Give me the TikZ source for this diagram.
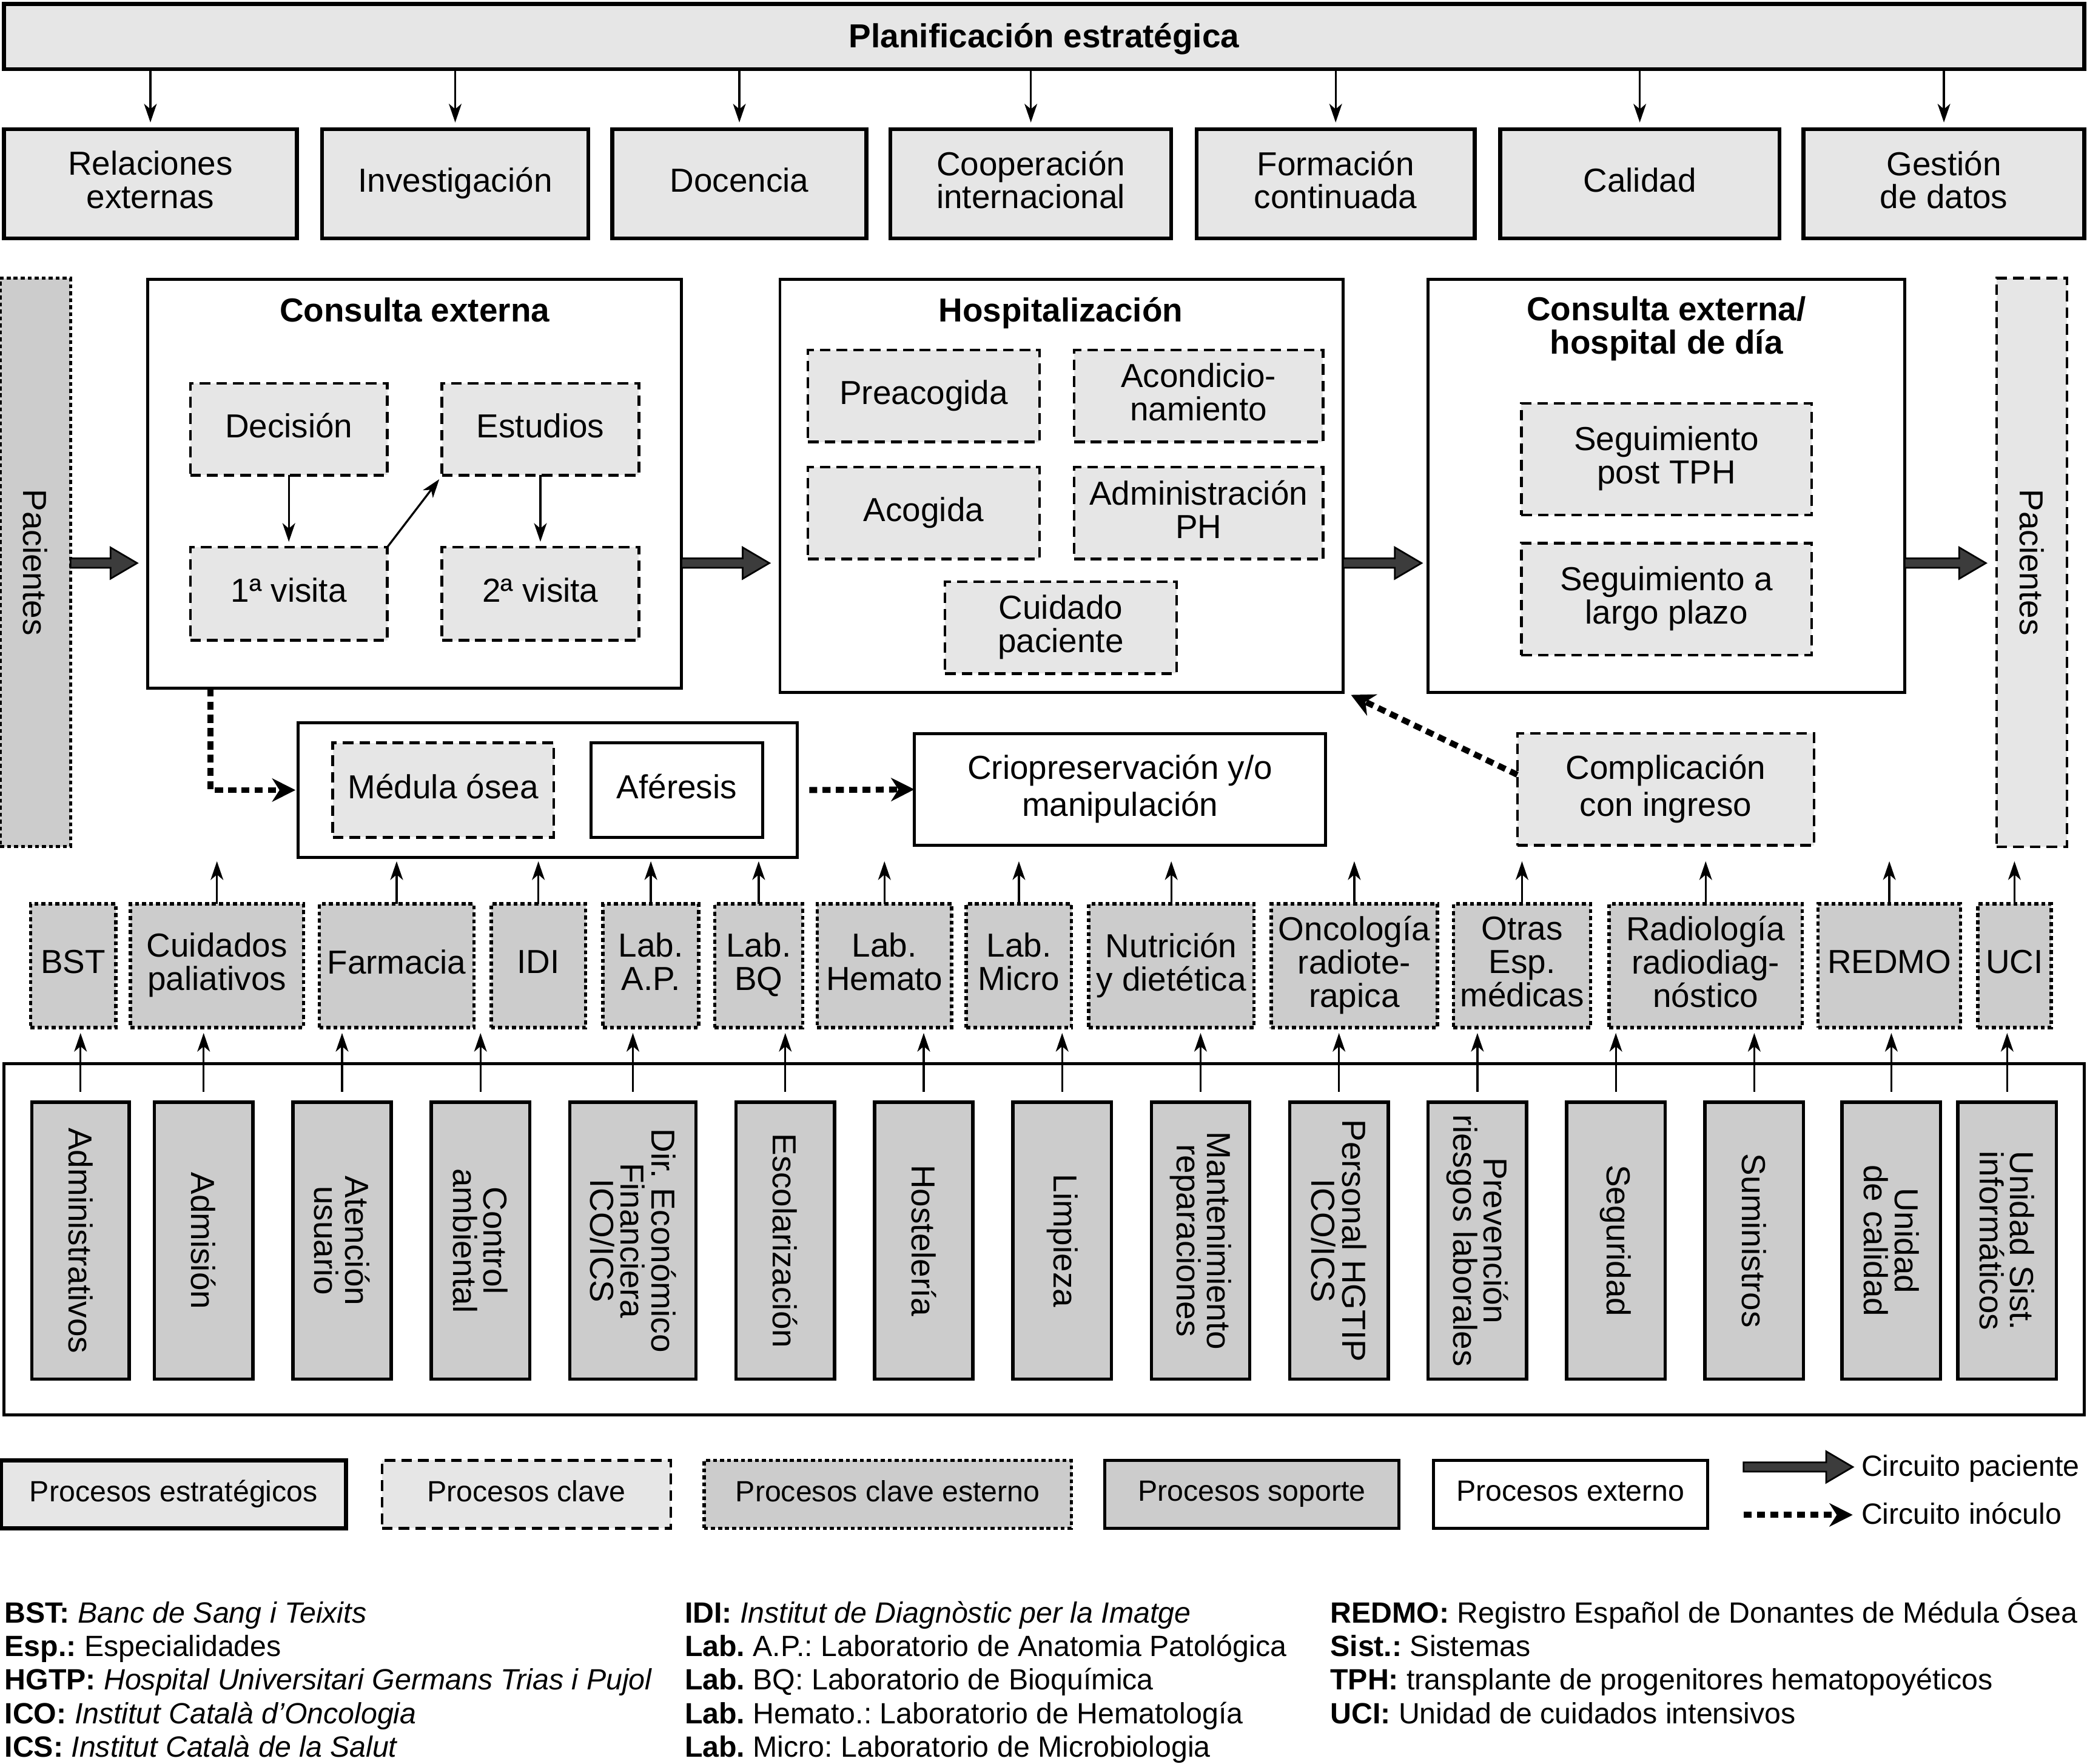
\documentclass[tikz,border=0pt]{standalone}
\usepackage{fontspec}
\setmainfont{Liberation Sans}
\usetikzlibrary{arrows.meta,calc}
\definecolor{lgray}{HTML}{E6E6E6}
\definecolor{dgray}{HTML}{CCCCCC}
\definecolor{pgray}{HTML}{3C3C3C}
\frenchspacing
\tikzset{
 bx/.style={inner sep=0pt, outer sep=0pt, align=center, font=\fontsize{10pt}{10pt}\selectfont, text depth=2.4pt},
 strat/.style={bx, draw, line width=1.2pt, fill=lgray},
 clave/.style={bx, draw, line width=0.8pt, fill=lgray, dash pattern=on 3.2pt off 1.8pt},
 claveext/.style={bx, draw, line width=1pt, fill=dgray, dash pattern=on 1.2pt off 0.9pt},
 soporte/.style={bx, draw, line width=1pt, fill=dgray},
 externo/.style={bx, draw, line width=0.9pt, fill=white},
 ttl/.style={font=\fontsize{10pt}{10pt}\selectfont\bfseries, align=center, inner sep=0pt},
 vtext/.style={rotate=-90, align=center, inner sep=0pt, font=\fontsize{10pt}{9.2pt}\selectfont},
 wide/.style={font=\fontsize{10pt}{11.2pt}\selectfont},
 lgd/.style={font=\fontsize{8.8pt}{10pt}\selectfont, text depth=2pt},
 fn/.style={anchor=base west, inner sep=0pt, font=\fontsize{8.8pt}{10pt}\selectfont},
 tarr/.style={line width=0.6pt, -{Stealth[length=5.6pt,width=3.8pt,inset=1.6pt]}},
 inoc/.style={line width=1.8pt, dash pattern=on 2.4pt off 1.6pt, -{Stealth[length=7pt,width=7pt,inset=2.2pt]}},
 patient/.style={draw=black, fill=pgray, line width=0.5pt, line join=miter},
}
\newcommand\boxat[7]{\node[#2, minimum width={(#5-#3)*0.4pt}, minimum height={(#6-#4)*0.4pt}] (#1) at ({(#3+#5)/2},{(#4+#6)/2}) {#7};}
\newcommand\patarrow[2]{\draw[patient] let \p1=#1, \p2=#2 in (\x1,\y1+1.4pt) -- (\x2-8pt,\y1+1.4pt) -- (\x2-8pt,\y1+4.7pt) -- (\x2,\y1) -- (\x2-8pt,\y1-4.7pt) -- (\x2-8pt,\y1-1.4pt) -- (\x1,\y1-1.4pt) -- cycle;}
\begin{document}
\begin{tikzpicture}[x=0.4pt, y=-0.4pt]
\useasboundingbox (0,0) rectangle (1568,1325);

% strategic
\boxat{plan}{strat,text depth=0.6pt}{3}{3}{1566}{52}{\bfseries Planificación estratégica}
\boxat{rel}{strat}{3}{97}{223}{179}{Relaciones\\externas}
\boxat{inv}{strat}{242}{97}{442}{179}{Investigación}
\boxat{doc}{strat}{460}{97}{651}{179}{Docencia}
\boxat{coop}{strat}{669}{97}{880}{179}{Cooperación\\internacional}
\boxat{form}{strat}{899}{97}{1108}{179}{Formación\\continuada}
\boxat{cal}{strat}{1127}{97}{1337}{179}{Calidad}
\boxat{gest}{strat}{1355}{97}{1566}{179}{Gestión\\de datos}
\foreach \n in {rel,inv,doc,coop,form,cal,gest}
  \draw[tarr] (\n.north |- plan.south) -- ([yshift=2pt]\n.north);

% patients
\boxat{pacL}{claveext}{0}{209}{53}{636}{}
\node[vtext] (pacLt) at (pacL.center) {Pacientes};
\boxat{pacR}{clave}{1500}{209}{1553}{636}{}
\node[vtext] (pacRt) at (pacR.center) {Pacientes};

% consulta externa
\boxat{cext}{externo}{111}{210}{512}{517}{}
\node[ttl] (cextT) at (311.5,233) {Consulta externa};
\boxat{dec}{clave}{143}{288}{291}{357}{Decisión}
\boxat{est}{clave}{332}{288}{480}{357}{Estudios}
\boxat{v1}{clave}{143}{411}{291}{481}{1ª visita}
\boxat{v2}{clave}{332}{411}{480}{481}{2ª visita}
\draw[tarr] (dec.south) -- ([yshift=1.6pt]v1.north);
\draw[tarr] (est.south) -- ([yshift=1.6pt]v2.north);
\draw[tarr] (v1.north east) -- ([shift={(-0.8pt,-1.2pt)}]est.south west);

% hospitalizacion
\boxat{hosp}{externo}{586}{210}{1009}{520}{}
\node[ttl] (hospT) at (797,235) {Hospitalización};
\boxat{prea}{clave}{607}{263}{781}{332}{Preacogida}
\boxat{acon}{clave}{807}{263}{994}{332}{Acondicio-\\namiento}
\boxat{acog}{clave}{607}{351}{781}{420}{Acogida}
\boxat{admph}{clave}{807}{351}{994}{420}{Administración\\PH}
\boxat{cuid}{clave}{710}{437}{884}{506}{Cuidado\\paciente}

% consulta externa / hospital de dia
\boxat{cehd}{externo}{1073}{210}{1431}{520}{}
\node[ttl] (cehdT) at (1252,247) {Consulta externa/\\hospital de día};
\boxat{segp}{clave}{1143}{303}{1361}{387}{Seguimiento\\post TPH}
\boxat{segl}{clave}{1143}{408}{1361}{492}{Seguimiento a\\largo plazo}

% patient circuit
\coordinate (lvl) at (0,423);
\patarrow{(pacL.east|-lvl)}{($(cext.west|-lvl)+(-8,0)$)}
\patarrow{(cext.east|-lvl)}{($(hosp.west|-lvl)+(-8,0)$)}
\patarrow{(hosp.east|-lvl)}{($(cehd.west|-lvl)+(-5,0)$)}
\patarrow{(cehd.east|-lvl)}{($(pacR.west|-lvl)+(-8,0)$)}

% middle row
\boxat{grp}{externo}{224}{543}{599}{644}{}
\boxat{med}{clave}{250}{558}{416}{629}{Médula ósea}
\boxat{afe}{externo}{444}{558}{573}{629}{Aféresis}
\boxat{crio}{externo,wide}{687}{551}{996}{635}{Criopreservación y/o\\manipulación}
\boxat{compl}{clave,wide}{1140}{551}{1363}{635}{Complicación\\con ingreso}
\draw[inoc] ($(cext.south west)+(47,0)$) |- ([xshift=-0.8pt]grp.west);
\draw[inoc] ([xshift=3.6pt]grp.east) -- (crio.west);
\draw[inoc] ([yshift=4.4pt]compl.west) -- ([shift={(2.4pt,-0.8pt)}]hosp.south east);

% external key processes
\boxat{bst}{claveext}{23}{679}{87}{772}{BST}
\boxat{cpal}{claveext}{98}{679}{228}{772}{Cuidados\\paliativos}
\boxat{farm}{claveext}{240}{679}{356}{772}{Farmacia}
\boxat{idi}{claveext}{369}{679}{440}{772}{IDI}
\boxat{lap}{claveext}{453}{679}{525}{772}{Lab.\\A.P.}
\boxat{lbq}{claveext}{537}{679}{603}{772}{Lab.\\BQ}
\boxat{lhem}{claveext}{614}{679}{715}{772}{Lab.\\Hemato}
\boxat{lmic}{claveext}{726}{679}{805}{772}{Lab.\\Micro}
\boxat{nutr}{claveext}{818}{679}{942}{772}{Nutrición\\y dietética}
\boxat{onco}{claveext}{955}{679}{1080}{772}{Oncología\\radiote-\\rapica}
\boxat{otras}{claveext}{1092}{679}{1195}{772}{Otras\\Esp.\\médicas}
\boxat{radio}{claveext}{1209}{679}{1354}{772}{Radiología\\radiodiag-\\nóstico}
\boxat{redmo}{claveext}{1366}{679}{1473}{772}{REDMO}
\boxat{uci}{claveext}{1486}{679}{1541}{772}{UCI}
\foreach \n in {cpal,farm,idi,lap,lbq,lhem,lmic,nutr,onco,otras,radio,redmo,uci}
  \draw[tarr] (\n.north) -- ++(0,-32);

% support processes
\boxat{sup}{externo}{3}{799}{1566}{1063}{}
\foreach \n/\a/\b/\t in {
 s1/24/97/Administrativos,
 s2/116/190/Admisión,
 s3/220/294/Atención\\usuario,
 s4/324/398/Control\\ambiental,
 s5/428/523/Dir. Económico\\Financiera\\ICO{/}ICS,
 s6/553/627/Escolarización,
 s7/657/731/Hostelería,
 s8/761/835/Limpieza,
 s9/865/939/Mantenimiento\\reparaciones,
 s10/969/1043/Personal HGTIP\\ICO{/}ICS,
 s11/1073/1147/Prevención\\riesgos laborales,
 s12/1177/1251/Seguridad,
 s13/1281/1355/Suministros,
 s14/1384/1458/Unidad\\de calidad,
 s15/1471/1545/Unidad Sist.\\informáticos}{
  \boxat{\n}{soporte}{\a}{828}{\b}{1036}{}
  \node[vtext] (\n t) at (\n.center) {\t};
  \draw[tarr] ([yshift=3.2pt]\n.north) -- ++(0,-44);
}

% legend
\boxat{lg1}{strat,lgd}{1}{1097}{260}{1148}{Procesos estratégicos}
\boxat{lg2}{clave,lgd}{287}{1097}{504}{1148}{Procesos clave}
\boxat{lg3}{claveext,lgd}{529}{1097}{805}{1148}{Procesos clave esterno}
\boxat{lg4}{soporte,lgd}{830}{1097}{1051}{1148}{Procesos soporte}
\boxat{lg5}{externo,lgd}{1077}{1097}{1283}{1148}{Procesos externo}
\coordinate (lpa) at (1310,1102);
\coordinate (lpb) at (1392,1102);
\patarrow{(lpa)}{(lpb)}
\coordinate (lia) at (1310,1138);
\coordinate (lib) at (1392,1138);
\draw[inoc] (lia) -- (lib);
\node[lgd, anchor=west, inner sep=0pt] (lcp) at (1398,1103.5) {Circuito paciente};
\node[lgd, anchor=west, inner sep=0pt] (lci) at (1398,1139.5) {Circuito inóculo};

% footnotes
\node[fn] (f1) at (3,1219) {\textbf{BST:} \textit{Banc de Sang i Teixits}};
\node[fn] (f2) at (3,1244.2) {\textbf{Esp.:} Especialidades};
\node[fn] (f3) at (3,1269.4) {\textbf{HGTP:} \textit{Hospital Universitari Germans Trias i Pujol}};
\node[fn] (f4) at (3,1294.6) {\textbf{ICO:} \textit{Institut Català d’Oncologia}};
\node[fn] (f5) at (3,1319.8) {\textbf{ICS:} \textit{Institut Català de la Salut}};
\node[fn] (f6) at (514,1219) {\textbf{IDI:} \textit{Institut de Diagnòstic per la Imatge}};
\node[fn] (f7) at (514,1244.2) {\textbf{Lab.} A.P.: Laboratorio de Anatomia Patológica};
\node[fn] (f8) at (514,1269.4) {\textbf{Lab.} BQ: Laboratorio de Bioquímica};
\node[fn] (f9) at (514,1294.6) {\textbf{Lab.} Hemato.: Laboratorio de Hematología};
\node[fn] (f10) at (514,1319.8) {\textbf{Lab.} Micro: Laboratorio de Microbiologia};
\node[fn] (f11) at (999,1219) {\textbf{REDMO:} Registro Español de Donantes de Médula Ósea};
\node[fn] (f12) at (999,1244.2) {\textbf{Sist.:} Sistemas};
\node[fn] (f13) at (999,1269.4) {\textbf{TPH:} transplante de progenitores hematopoyéticos};
\node[fn] (f14) at (999,1294.6) {\textbf{UCI:} Unidad de cuidados intensivos};
\end{tikzpicture}
\end{document}
